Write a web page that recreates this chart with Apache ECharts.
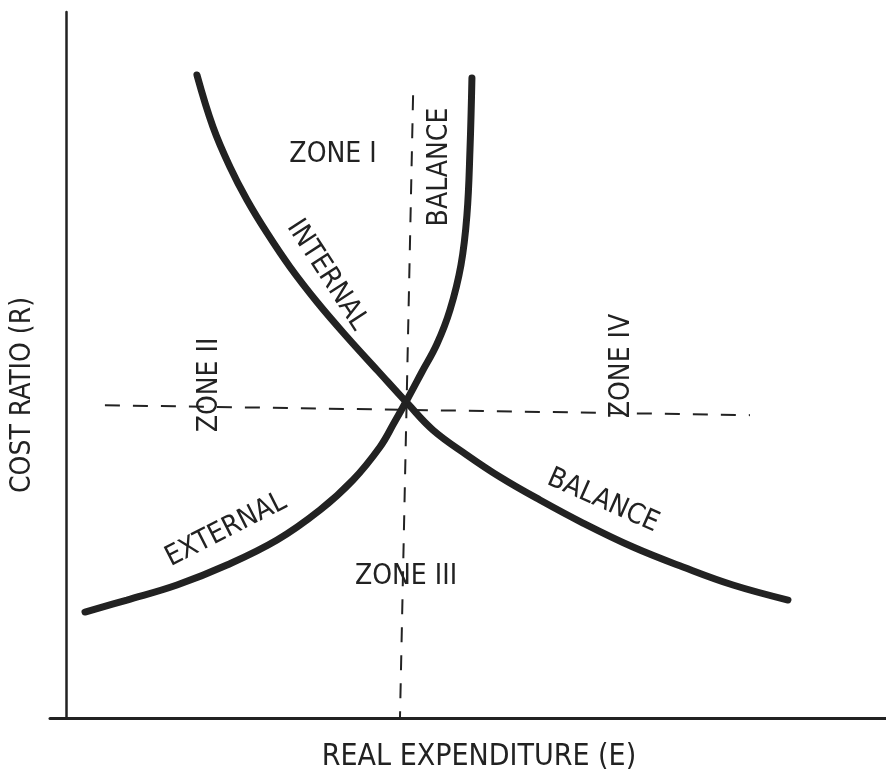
<!DOCTYPE html>
<html><head><meta charset="utf-8">
<script src="https://cdn.jsdelivr.net/npm/echarts@6/dist/echarts.min.js"></script>
<style>html,body{margin:0;padding:0;background:#fff}#c{width:886px;height:774px}</style>
</head><body><div id="c"></div>
<script>
// Internal balance curve (E, R)
const internalBalance = [[15.93,91.08],[17.89,83.71],[19.96,78.05],[22.04,73.37],[24.48,68.70],[27.28,63.88],[30.58,58.92],[34.24,53.97],[38.01,49.15],[41.68,44.48],[44.73,40.79],[48.88,37.25],[52.91,34.14],[57.78,30.88],[63.03,27.62],[69.13,24.22],[75.23,21.39],[81.33,18.84],[88.04,16.71]];
// External balance curve (E, R)
const externalBalance = [[2.27,15.01],[7.39,16.71],[13.49,18.84],[19.59,21.67],[25.70,25.21],[30.94,29.46],[34.97,33.71],[38.26,38.39],[39.97,41.78],[41.68,45.33],[43.38,49.01],[45.21,52.97],[46.80,57.79],[48.14,64.16],[48.87,71.25],[49.24,80.45],[49.48,90.65]];
// Zone dividing dashed lines
const verticalDivider = [[42.3,88.2],[40.7,0]];
const horizontalDivider = [[4.7,44.3],[83.4,42.9]];
const axisNames = {x:'REAL EXPENDITURE (E)', y:'COST RATIO (R)'};
const labels = ['ZONE I','BALANCE','INTERNAL','ZONE II','ZONE IV','BALANCE','EXTERNAL','ZONE III'];

const FONT = '"Liberation Sans Narrow","DejaVu Sans Condensed",sans-serif';
const ink = '#222';
const chart = echarts.init(document.getElementById('c'));
function txt(t,x,y,rot,fs){
  return {type:'text',x:x,y:y,rotation:rot*Math.PI/180,
    style:{text:t,fill:ink,font:(fs||28)+'px '+FONT,textAlign:'center',textVerticalAlign:'middle'}};
}
chart.setOption({
  backgroundColor:'#fff',
  animation:false,
  grid:{left:50,right:0,top:12,bottom:56},
  xAxis:{type:'value',min:-2,max:100,axisLine:{onZero:false,lineStyle:{color:ink,width:3}},
    axisTick:{show:false},axisLabel:{show:false},splitLine:{show:false}},
  yAxis:{type:'value',min:0,max:100,axisLine:{show:true,onZero:true,lineStyle:{color:ink,width:2.5}},
    axisTick:{show:false},axisLabel:{show:false},splitLine:{show:false}},
  series:[
    {type:'line',data:internalBalance,smooth:0.4,symbol:'none',lineStyle:{color:ink,width:7,cap:'round'}},
    {type:'line',data:externalBalance,smooth:0.4,symbol:'none',lineStyle:{color:ink,width:7,cap:'round'}},
    {type:'line',data:verticalDivider,symbol:'none',lineStyle:{color:ink,width:2,type:[15,13]}},
    {type:'line',data:horizontalDivider,symbol:'none',lineStyle:{color:ink,width:2,type:[15,13]}}
  ],
  graphic:[
    txt(labels[0],333,155,0),
    txt(labels[1],440,167,90),
    txt(labels[2],327,275,-57),
    txt(labels[3],210,385,90),
    txt(labels[4],622,366,90),
    txt(labels[5],603,501,-24),
    txt(labels[6],226,530,27),
    txt(labels[7],406,577,0),
    txt(axisNames.x,479,757,0,30),
    txt(axisNames.y,23,395,90,28)
  ]
});
</script></body></html>
